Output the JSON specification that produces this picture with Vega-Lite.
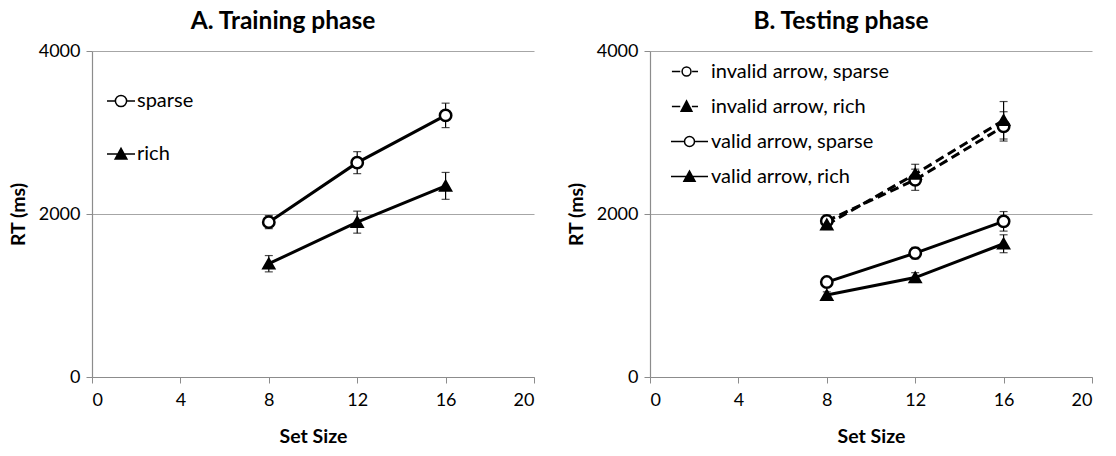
{
  "$schema": "https://vega.github.io/schema/vega-lite/v6.json",
  "padding": {"left": 8, "top": 8, "right": 5, "bottom": 5},
  "background": "white",
  "config": {
    "font": "Lato",
    "view": {"stroke": null},
    "axis": {"labelFont": "Lato", "labelFontSize": 18, "labelColor": "black", "titleFont": "Lato", "titleFontSize": 19.5, "titleFontWeight": "bold", "titleColor": "black", "domainColor": "#8c8c8c", "tickColor": "#8c8c8c", "gridColor": "#a6a6a6", "tickSize": 6, "domainWidth": 1.2, "gridWidth": 1.2, "format": "d"},
    "title": {"font": "Lato", "fontSize": 24.5, "fontWeight": "bold", "color": "black", "offset": 8, "dx": -30},
    "legend": {"labelFont": "Lato", "labelFontSize": 20, "labelColor": "black", "padding": 0, "labelLimit": 400}
  },
  "data": {"values": [
    {"panel": "A", "series": "sparse", "size": 8, "rt": 1900, "err": 80},
    {"panel": "A", "series": "sparse", "size": 12, "rt": 2630, "err": 135},
    {"panel": "A", "series": "sparse", "size": 16, "rt": 3210, "err": 150},
    {"panel": "A", "series": "rich", "size": 8, "rt": 1390, "err": 100},
    {"panel": "A", "series": "rich", "size": 12, "rt": 1900, "err": 135},
    {"panel": "A", "series": "rich", "size": 16, "rt": 2345, "err": 165},
    {"panel": "B", "series": "invalid arrow, sparse", "size": 8, "rt": 1915, "err": 70},
    {"panel": "B", "series": "invalid arrow, sparse", "size": 12, "rt": 2420, "err": 130},
    {"panel": "B", "series": "invalid arrow, sparse", "size": 16, "rt": 3075, "err": 180},
    {"panel": "B", "series": "invalid arrow, rich", "size": 8, "rt": 1870, "err": 60},
    {"panel": "B", "series": "invalid arrow, rich", "size": 12, "rt": 2490, "err": 120},
    {"panel": "B", "series": "invalid arrow, rich", "size": 16, "rt": 3150, "err": 230},
    {"panel": "B", "series": "valid arrow, sparse", "size": 8, "rt": 1165, "err": 40},
    {"panel": "B", "series": "valid arrow, sparse", "size": 12, "rt": 1520, "err": 70},
    {"panel": "B", "series": "valid arrow, sparse", "size": 16, "rt": 1910, "err": 120},
    {"panel": "B", "series": "valid arrow, rich", "size": 8, "rt": 1005, "err": 40},
    {"panel": "B", "series": "valid arrow, rich", "size": 12, "rt": 1220, "err": 60},
    {"panel": "B", "series": "valid arrow, rich", "size": 16, "rt": 1635, "err": 110}
  ]},
  "spacing": 31,
  "resolve": {"scale": {"shape": "independent", "fill": "independent"}, "legend": {"shape": "independent"}},
  "hconcat": [
    {
      "width": 442, "height": 326,
      "title": {"text": "A. Training phase"},
      "transform": [{"filter": "datum.panel === 'A'"}],
      "encoding": {
        "x": {"field": "size", "type": "quantitative", "scale": {"domain": [0, 20]}, "axis": {"values": [0, 4, 8, 12, 16, 20], "title": "Set Size", "grid": false, "labelPadding": 8, "titlePadding": 18}},
        "y": {"field": "rt", "type": "quantitative", "scale": {"domain": [0, 4000]}, "axis": {"values": [0, 2000, 4000], "title": "RT (ms)", "grid": true, "labelPadding": 6, "titlePadding": 10}}
      },
      "layer": [
        {"mark": {"type": "errorbar", "ticks": {"size": 8, "color": "black"}, "color": "black", "thickness": 1.2},
         "encoding": {"yError": {"field": "err"}, "detail": {"field": "series"}}},
        {"mark": {"type": "line", "strokeWidth": 3, "color": "black"},
         "encoding": {"detail": {"field": "series"}}},
        {"transform": [{"filter": "datum.series === 'sparse'"}],
         "mark": {"type": "point", "shape": "circle", "filled": true, "fill": "white", "stroke": "black", "strokeWidth": 2.5, "size": 130, "opacity": 1}},
        {"transform": [{"filter": "datum.series === 'rich'"}],
         "mark": {"type": "point", "shape": "triangle-up", "filled": true, "fill": "black", "stroke": "black", "strokeWidth": 2.5, "size": 110, "opacity": 1}},
        {"mark": {"type": "point", "filled": true, "stroke": "black", "strokeWidth": 2.5, "size": 0, "opacity": 1},
         "encoding": {
           "fill": {"field": "series", "type": "nominal", "scale": {"domain": ["sparse", "rich"], "range": ["white", "black"]}, "legend": null},
           "shape": {"field": "series", "type": "nominal",
             "scale": {"domain": ["sparse", "rich"], "range": ["M-1,0H-0.4 M0.4,0A0.4,0.4 0 1,1 -0.4,0A0.4,0.4 0 1,1 0.4,0 M0.4,0H1", "M-1,0H1 M-0.42,0.36L0,-0.4L0.42,0.36Z"]},
             "legend": {"orient": "none", "legendX": 14, "legendY": 35, "title": null, "symbolSize": 784, "rowPadding": 28, "labelOffset": 1}}
         }}
      ]
    },
    {
      "width": 442, "height": 326,
      "title": {"text": "B. Testing phase"},
      "transform": [{"filter": "datum.panel === 'B'"}],
      "encoding": {
        "x": {"field": "size", "type": "quantitative", "scale": {"domain": [0, 20]}, "axis": {"values": [0, 4, 8, 12, 16, 20], "title": "Set Size", "grid": false, "labelPadding": 8, "titlePadding": 18}},
        "y": {"field": "rt", "type": "quantitative", "scale": {"domain": [0, 4000]}, "axis": {"values": [0, 2000, 4000], "title": "RT (ms)", "grid": true, "labelPadding": 6, "titlePadding": 10}}
      },
      "layer": [
        {"mark": {"type": "errorbar", "ticks": {"size": 8, "color": "black"}, "color": "black", "thickness": 1.2},
         "encoding": {"yError": {"field": "err"}, "detail": {"field": "series"}}},
        {"transform": [{"filter": "indexof(datum.series, 'invalid') >= 0"}],
         "mark": {"type": "line", "strokeWidth": 3, "color": "black", "strokeDash": [9, 5]},
         "encoding": {"detail": {"field": "series"}}},
        {"transform": [{"filter": "indexof(datum.series, 'invalid') < 0"}],
         "mark": {"type": "line", "strokeWidth": 3, "color": "black"},
         "encoding": {"detail": {"field": "series"}}},
        {"transform": [{"filter": "indexof(datum.series, 'sparse') >= 0"}],
         "mark": {"type": "point", "shape": "circle", "filled": true, "fill": "white", "stroke": "black", "strokeWidth": 2.5, "size": 130, "opacity": 1}},
        {"transform": [{"filter": "indexof(datum.series, 'rich') >= 0"}],
         "mark": {"type": "point", "shape": "triangle-up", "filled": true, "fill": "black", "stroke": "black", "strokeWidth": 2.5, "size": 110, "opacity": 1}},
        {"mark": {"type": "point", "filled": true, "stroke": "black", "strokeWidth": 2.5, "size": 0, "opacity": 1},
         "encoding": {
           "fill": {"field": "series", "type": "nominal", "scale": {"domain": ["invalid arrow, sparse", "invalid arrow, rich", "valid arrow, sparse", "valid arrow, rich"], "range": ["white", "black", "white", "black"]}, "legend": null},
           "shape": {"field": "series", "type": "nominal",
             "scale": {"domain": ["invalid arrow, sparse", "invalid arrow, rich", "valid arrow, sparse", "valid arrow, rich"],
               "range": ["M-0.95,0H-0.5 M0.08,0A0.24,0.24 0 1,1 -0.4,0A0.24,0.24 0 1,1 0.08,0 M0.14,0H0.46", "M-0.95,0H-0.5 M-0.45,0.25L-0.16,-0.3L0.13,0.25Z M0.13,0H0.46", "M-1,0H-0.3 M0.27,0A0.27,0.27 0 1,1 -0.27,0A0.27,0.27 0 1,1 0.27,0 M0.3,0H1", "M-1,0H1 M-0.3,0.25L0,-0.3L0.3,0.25Z"]},
             "legend": {"orient": "none", "legendX": 20, "legendY": 1, "title": null, "symbolSize": 1369, "rowPadding": 5, "labelOffset": 2}}
         }}
      ]
    }
  ]
}
